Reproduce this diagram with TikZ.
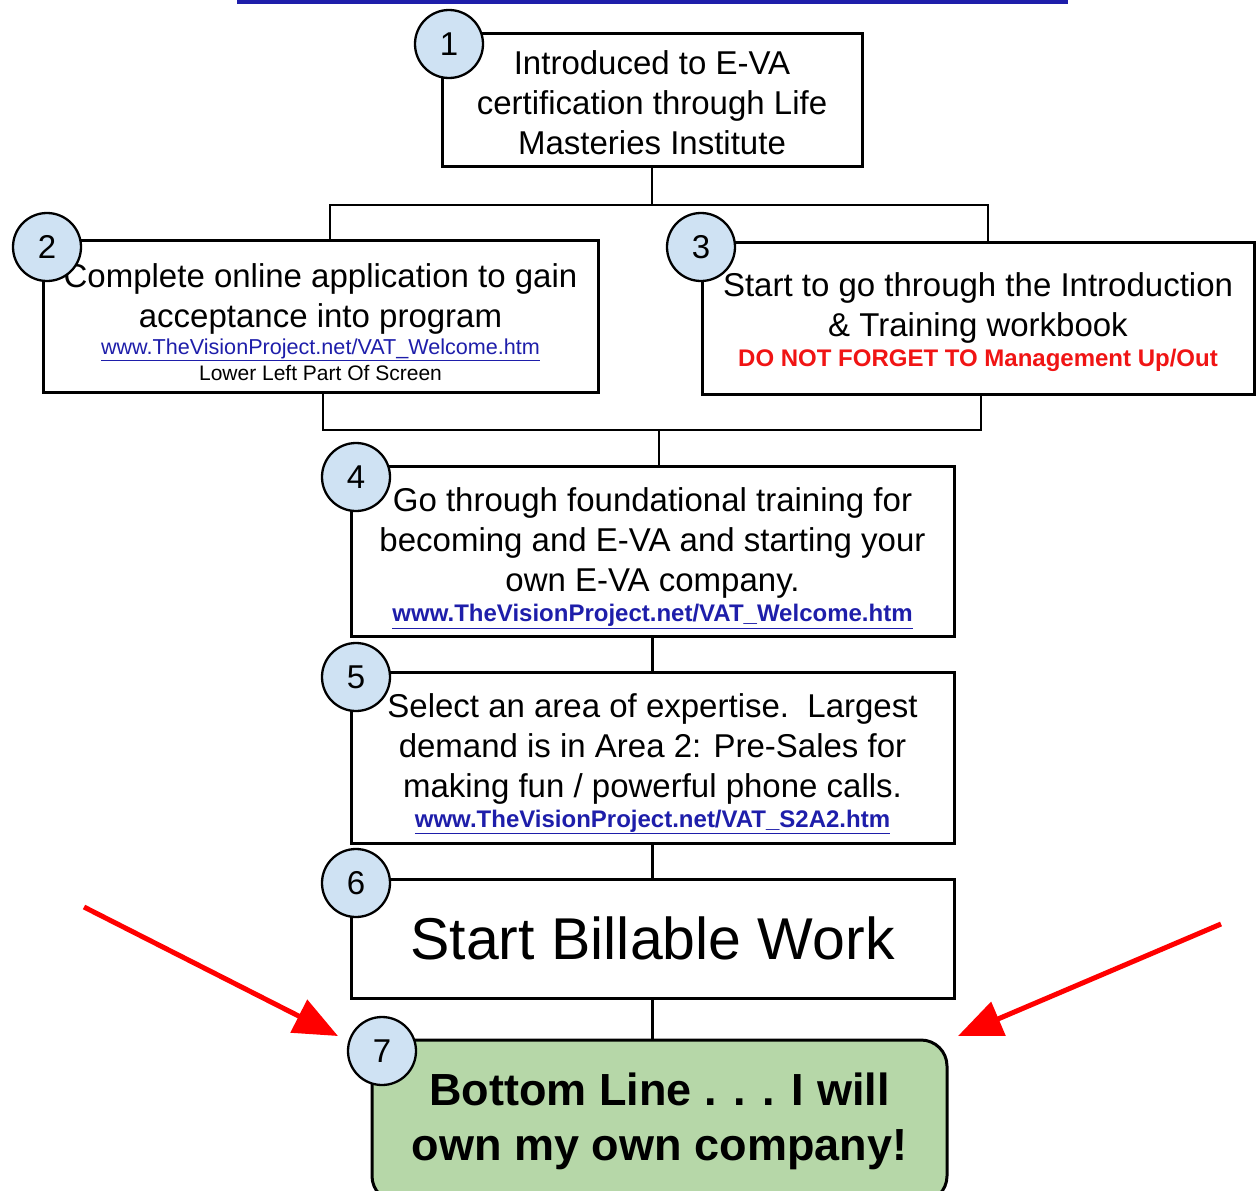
\documentclass[tikz,border=0pt]{standalone}
\usepackage{fontspec}
\setmainfont{Liberation Sans}
\usetikzlibrary{arrows.meta}

\definecolor{numblue}{HTML}{CFE2F3}
\definecolor{endgreen}{HTML}{B6D7A8}
\definecolor{linkblue}{RGB}{30,30,170}
\definecolor{warnred}{RGB}{240,20,20}

\newcommand{\weblink}[1]{\textcolor{linkblue}{\underline{#1}}}
\newcommand{\toppad}[1]{\rule{0pt}{#1pt}}

\begin{document}
\begin{tikzpicture}[x=1pt, y=-1pt,
	box/.style={rectangle, draw=black, line width=3pt, inner sep=0pt, align=center, font=\fontsize{33}{40}\selectfont},
	num/.style={circle, draw=black, line width=2.3pt, fill=numblue, minimum size=68pt, inner sep=0pt, font=\fontsize{33}{40}\selectfont},
	link/.style={line width=2.7pt},
	redarrow/.style={draw=red, line width=5pt, -{Triangle[length=44pt, width=36pt]}}]
				\useasboundingbox (0,0) rectangle (1256,1191);
				\fill[linkblue] (237,0) rectangle (1068,4);
				
				\node[box, minimum width=420pt, minimum height=133pt] (b1) at (652,99.5){\toppad{30}Introduced to E-VA\\certification through Life\\Masteries Institute};
				\node[box, minimum width=555pt, minimum height=152pt] (b2) at (320.5,316){\toppad{36}Complete online application to gain\\acceptance into program\\[-13pt]{\fontsize{21.6}{25}\selectfont\weblink{www.TheVisionProject.net/VAT\_Welcome.htm}}\\[-14pt]{\fontsize{21}{25}\selectfont Lower Left Part Of Screen}};
				\node[box, minimum width=552pt, minimum height=152pt] (b3) at (978,318){\toppad{32}Start to go through the Introduction\\\& Training workbook\\[-10pt]{\fontsize{24}{27}\selectfont\bfseries\textcolor{warnred}{DO NOT FORGET TO Management Up/Out}}};
				\node[box, minimum width=603pt, minimum height=170pt] (b4) at (652.5,551){\toppad{38}Go through foundational training for\\becoming and E-VA and starting your\\own E-VA company.\\[-10pt]{\fontsize{24}{27}\selectfont\bfseries\weblink{www.TheVisionProject.net/VAT\_Welcome.htm}}};
				\node[box, minimum width=603pt, minimum height=171pt] (b5) at (652.5,757.5){\toppad{36}Select an area of expertise.\ \ Largest\\demand is in Area 2: Pre-Sales for\\making fun / powerful phone calls.\\[-10pt]{\fontsize{24}{27}\selectfont\bfseries\weblink{www.TheVisionProject.net/VAT\_S2A2.htm}}};
				\node[box, minimum width=603pt, minimum height=119pt, font=\fontsize{59}{66}\selectfont] (b6) at (652.5,938.5){Start Billable Work};
				\node[box, fill=endgreen, rounded corners=26pt, minimum width=575pt, minimum height=162pt, font=\fontsize{45}{55}\selectfont\bfseries] (b7) at (659.5,1121){Bottom Line . . . I will\\own my own company!};
				
				\coordinate (s1) at (652,205);
				\coordinate (s2) at (659,430);
				\path[draw, link] (b1.south) -- (s1) -| ([xshift=9.5pt]b2.north);
				\path[draw, link] (s1) -| ([xshift=10pt]b3.north);
				\path[draw, link] ([xshift=2.5pt]b2.south) |- (s2);
				\path[draw, link] ([xshift=3pt]b3.south) |- (s2);
				\path[draw, link] (s2) -- ([xshift=6.5pt]b4.north);
				\path[draw, link] (b4.south) -- (b5.north);
				\path[draw, link] (b5.south) -- (b6.north);
				\path[draw, link] (b6.south) -- (b6.south |- b7.north);
				
				\node[num] (n1) at (449,44){1};
				\node[num] (n2) at (47,247){2};
				\node[num] (n3) at (701,247){3};
				\node[num] (n4) at (356,477){4};
				\node[num] (n5) at (356,677){5};
				\node[num] (n6) at (356,883){6};
				\node[num] (n7) at (382,1051){7};
				
				\coordinate (la) at (84,907);
				\coordinate (lb) at (338,1036);
				\coordinate (ra) at (1221,924);
				\coordinate (rb) at (958,1036);
				\path[redarrow] (la) -- (lb);
				\path[redarrow] (ra) -- (rb);
				\end{tikzpicture}
\end{document}
